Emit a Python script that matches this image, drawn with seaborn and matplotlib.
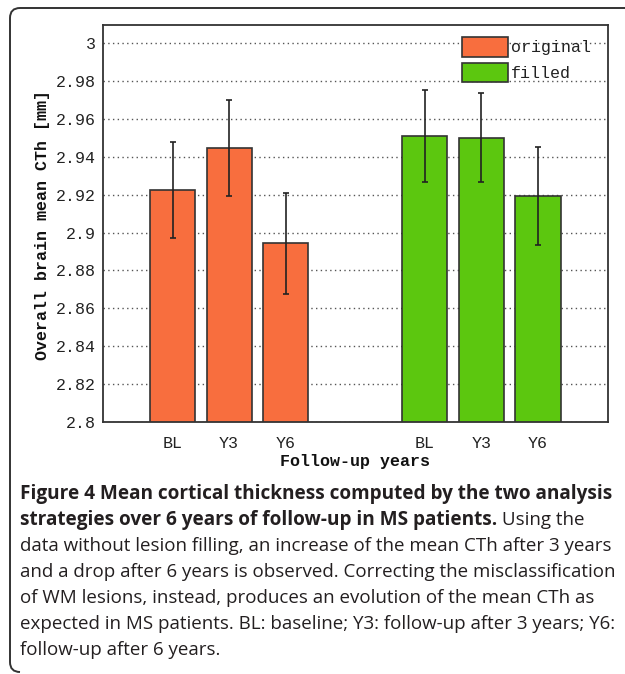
import matplotlib
matplotlib.use("Agg")
import matplotlib.pyplot as plt
import seaborn as sns
import pandas as pd
from matplotlib.patches import Patch, PathPatch
from matplotlib.path import Path

# ---------------- data ----------------
timepoints = ["BL", "Y3", "Y6"]
groups = ["original", "filled"]
original_mean = [2.9224, 2.9446, 2.8943]
original_err = [0.0254, 0.0255, 0.0265]
filled_mean = [2.9511, 2.9500, 2.9193]
filled_err = [0.0242, 0.0236, 0.0259]
y_ticks = [2.80, 2.82, 2.84, 2.86, 2.88, 2.90, 2.92, 2.94, 2.96, 2.98, 3.00]
y_tick_labels = ["2.8", "2.82", "2.84", "2.86", "2.88", "2.9",
                 "2.92", "2.94", "2.96", "2.98", "3"]
x_label = "Follow-up years"
y_label = "Overall brain mean CTh [mm]"

caption_bold_1 = "Figure 4 Mean cortical thickness computed by the two analysis"
caption_bold_2 = "strategies over 6 years of follow-up in MS patients."
caption_reg_2 = " Using the"
caption_lines = [
    "data without lesion filling, an increase of the mean CTh after 3 years",
    "and a drop after 6 years is observed. Correcting the misclassification",
    "of WM lesions, instead, produces an evolution of the mean CTh as",
    "expected in MS patients. BL: baseline; Y3: follow-up after 3 years; Y6:",
    "follow-up after 6 years.",
]

# ---------------- style ----------------
sns.set_style("white")
W, H, DPI = 625, 674, 100
mono = "Liberation Mono"
plt.rcParams["font.family"] = ["DejaVu Sans"]

col_orange = "#F86E3E"
col_green = "#5CC70F"
edge = "#333333"

positions_orig = [0.0, 1.0, 2.0]
positions_fill = [4.46, 5.46, 6.46]

df = pd.DataFrame({
    "pos": positions_orig + positions_fill,
    "value": original_mean + filled_mean,
    "err": original_err + filled_err,
    "group": [groups[0]] * 3 + [groups[1]] * 3,
})

fig = plt.figure(figsize=(W / DPI, H / DPI), dpi=DPI)
fig.patch.set_facecolor("white")

def px_axes(l, t, r, b):
    return [l / W, 1 - b / H, (r - l) / W, (b - t) / H]

ax = fig.add_axes(px_axes(103, 25, 607.5, 422))

sns.barplot(data=df, x="pos", y="value", hue="group", hue_order=groups,
            palette=[col_orange, col_green], native_scale=True, dodge=False,
            width=0.8, saturation=1, edgecolor=edge, linewidth=1.2,
            errorbar=None, legend=False, ax=ax, zorder=2)

ax.errorbar(df["pos"], df["value"], yerr=df["err"], fmt="none",
            ecolor="#222222", elinewidth=1.2, capsize=2.5, capthick=1.2,
            zorder=3)

ax.set_ylim(2.8, 3.0095)
ax.set_xlim(-1.23, 7.69)
ax.set_yticks(y_ticks)
ax.set_yticklabels(y_tick_labels)
ax.set_xticks(positions_orig + positions_fill)
ax.set_xticklabels(timepoints + timepoints)
ax.tick_params(axis="y", direction="in", length=3, pad=5, color="#333333",
               labelsize=12, labelcolor="#222222", labelfontfamily=mono)
ax.tick_params(axis="x", length=0, pad=10, labelsize=12, labelcolor="#222222",
               labelfontfamily=mono)
for lab in ax.get_xticklabels() + ax.get_yticklabels():
    lab.set_fontfamily(mono)

ax.set_axisbelow(True)
ax.yaxis.grid(True, linestyle=(0, (1, 2.4)), color="#555555", linewidth=1.0)
ax.xaxis.grid(False)
for s in ax.spines.values():
    s.set_visible(True)
    s.set_color("#333333")
    s.set_linewidth(1.3)

ax.set_xlabel(x_label, fontfamily=mono, fontweight="bold", fontsize=12,
              color="#111111")
ax.set_ylabel(y_label, fontfamily=mono, fontweight="bold", fontsize=12,
              color="#111111")
ax.xaxis.set_label_coords(0.5, -0.080)
ax.yaxis.set_label_coords(-0.105, 0.495)

handles = [Patch(facecolor=col_orange, edgecolor=edge, linewidth=1.2),
           Patch(facecolor=col_green, edgecolor=edge, linewidth=1.2)]
leg = ax.legend(handles, groups, loc="upper left",
                bbox_to_anchor=((462 - 103) / 504.5, (422 - 37) / 397),
                frameon=False, borderpad=0, borderaxespad=0,
                handlelength=2.75, handleheight=1.45, handletextpad=0.2,
                labelspacing=0.35,
                prop={"family": mono, "size": 12})
for t in leg.get_texts():
    t.set_color("#222222")

# ---------------- frame ----------------
def fy(y):
    return 1 - y / H

verts = [(625 / W, fy(8)), (20 / W, fy(8)), (10 / W, fy(8)), (10 / W, fy(18)),
         (10 / W, fy(662)), (10 / W, fy(672)), (20 / W, fy(672))]
codes = [Path.MOVETO, Path.LINETO, Path.CURVE3, Path.CURVE3,
         Path.LINETO, Path.CURVE3, Path.CURVE3]
fig.patches.append(PathPatch(Path(verts, codes), transform=fig.transFigure,
                             facecolor="none", edgecolor="#333333",
                             linewidth=1.4))

# ---------------- caption ----------------
cap_font = "Open Sans"
cap_color = "#231F20"
renderer = fig.canvas.get_renderer()

def width_of(txt, size, weight):
    t = fig.text(0, 0, txt, fontfamily=cap_font, fontsize=size, fontweight=weight)
    w = t.get_window_extent(renderer).width
    t.remove()
    return w

bold_size = 13.0 * 590 / width_of(caption_bold_1, 13.0, "bold")
reg_size = 13.0 * 590 / width_of(caption_lines[0], 13.0, "normal")

x0 = 20
line_y = [494, 520, 546, 572, 598, 624, 650]
fig.text(x0 / W, fy(line_y[0]), caption_bold_1, fontfamily=cap_font,
         fontsize=bold_size, fontweight="bold", color=cap_color, va="center")
tb = fig.text(x0 / W, fy(line_y[1]), caption_bold_2, fontfamily=cap_font,
              fontsize=bold_size, fontweight="bold", color=cap_color, va="center")
wb = tb.get_window_extent(renderer).width
fig.text((x0 + wb) / W, fy(line_y[1]), caption_reg_2, fontfamily=cap_font,
         fontsize=reg_size, color=cap_color, va="center")
for yy, line in zip(line_y[2:], caption_lines):
    fig.text(x0 / W, fy(yy), line, fontfamily=cap_font, fontsize=reg_size,
             color=cap_color, va="center")

fig.savefig("out.png", dpi=DPI, facecolor="white")
